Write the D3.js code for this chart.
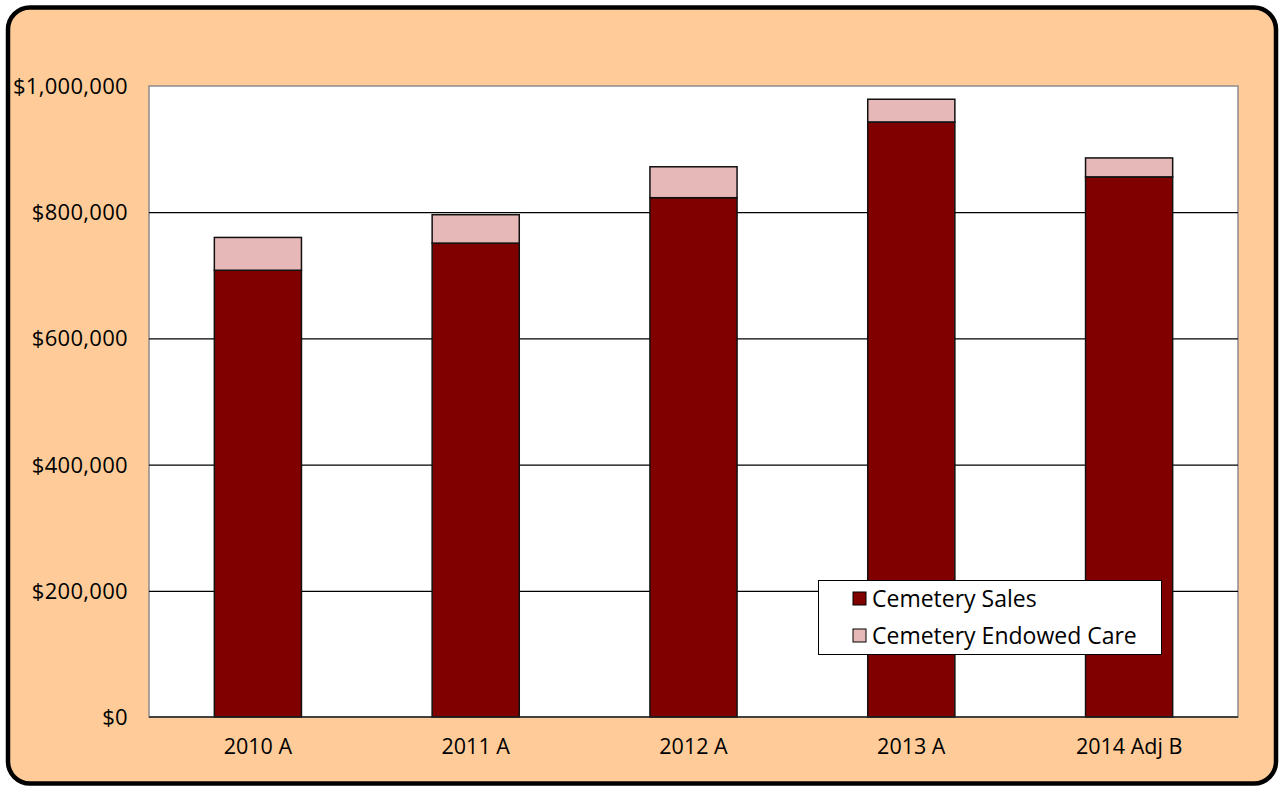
<!DOCTYPE html>
<html>
<head>
<meta charset="utf-8">
<script src="https://cdn.jsdelivr.net/npm/d3@7"></script>
<style>
  html, body { margin: 0; padding: 0; background: #fff; }
  svg { display: block; }
  text { font-family: "Open Sans", "DejaVu Sans", sans-serif; fill: #000; }
</style>
</head>
<body>
<svg id="chart" width="1280" height="787"></svg>
<script>
// Yearly revenue, split into sales and endowed care
const categories = ["2010 A", "2011 A", "2012 A", "2013 A", "2014 Adj B"];
const cemeterySales = [708000, 751000, 823000, 943000, 856000];
const endowedCare = [52000, 45000, 49000, 36000, 30000];
const seriesNames = ["Cemetery Sales", "Cemetery Endowed Care"];
const seriesColors = ["#800000", "#E6B8B7"];
const yTicks = [0, 200000, 400000, 600000, 800000, 1000000];

const svg = d3.select("#chart");

// Frame
svg.append("rect")
  .attr("x", 8).attr("y", 7.5)
  .attr("width", 1268).attr("height", 776)
  .attr("rx", 22).attr("ry", 22)
  .attr("fill", "#FFCC99")
  .attr("stroke", "#000")
  .attr("stroke-width", 4.5);

const plot = { left: 149, top: 86, right: 1238, bottom: 717 };

const x = d3.scaleBand()
  .domain(categories)
  .range([plot.left, plot.right])
  .paddingInner(0.6)
  .paddingOuter(0.3);

const y = d3.scaleLinear()
  .domain([0, 1000000])
  .range([plot.bottom, plot.top]);

// Plot area
svg.append("rect")
  .attr("x", plot.left).attr("y", plot.top)
  .attr("width", plot.right - plot.left)
  .attr("height", plot.bottom - plot.top)
  .attr("fill", "#fff")
  .attr("stroke", "#8c8c8c")
  .attr("stroke-width", 1.5);

// Gridlines
svg.append("g")
  .selectAll("line")
  .data(yTicks.filter(d => d > 0 && d < 1000000))
  .join("line")
  .attr("x1", plot.left).attr("x2", plot.right)
  .attr("y1", d => y(d) + 0.5).attr("y2", d => y(d) + 0.5)
  .attr("stroke", "#000")
  .attr("stroke-width", 1.2);

// Stacked bars
const rows = categories.map((c, i) => ({ cat: c, sales: cemeterySales[i], care: endowedCare[i] }));
const stack = d3.stack().keys(["sales", "care"])(rows);

svg.append("g")
  .selectAll("g")
  .data(stack)
  .join("g")
  .attr("fill", (d, i) => seriesColors[i])
  .selectAll("rect")
  .data(d => d)
  .join("rect")
  .attr("x", d => x(d.data.cat))
  .attr("y", d => y(d[1]))
  .attr("width", x.bandwidth())
  .attr("height", d => y(d[0]) - y(d[1]))
  .attr("stroke", "#111")
  .attr("stroke-width", 1.5);

// Y axis labels
const fmt = d3.format("$,");
svg.append("g")
  .selectAll("text")
  .data(yTicks)
  .join("text")
  .attr("x", 128)
  .attr("y", d => y(d))
  .attr("dy", "0.36em")
  .attr("text-anchor", "end")
  .attr("font-size", 22)
  .attr("letter-spacing", 0.3)
  .text(d => fmt(d));

// X axis line
svg.append("line")
  .attr("x1", plot.left).attr("x2", plot.right)
  .attr("y1", plot.bottom).attr("y2", plot.bottom)
  .attr("stroke", "#222")
  .attr("stroke-width", 1.5);

// X axis labels
svg.append("g")
  .selectAll("text")
  .data(categories)
  .join("text")
  .attr("x", d => x(d) + x.bandwidth() / 2)
  .attr("y", 754)
  .attr("text-anchor", "middle")
  .attr("font-size", 21.5)
  .text(d => d);

// Legend
const lg = svg.append("g");
lg.append("rect")
  .attr("x", 818.5).attr("y", 580.5)
  .attr("width", 343).attr("height", 74)
  .attr("fill", "#fff")
  .attr("stroke", "#000")
  .attr("stroke-width", 1);

seriesNames.forEach((name, i) => {
  const yy = 592 + i * 37;
  lg.append("rect")
    .attr("x", 853).attr("y", yy)
    .attr("width", 13).attr("height", 13)
    .attr("fill", seriesColors[i])
    .attr("stroke", "#000")
    .attr("stroke-width", 1);
  lg.append("text")
    .attr("x", 872).attr("y", yy + 15)
    .attr("font-size", 23)
    .attr("font-weight", 500)
    .text(name);
});
</script>
</body>
</html>
